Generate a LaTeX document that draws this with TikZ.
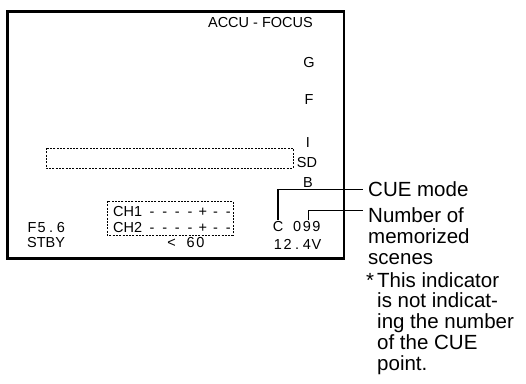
\documentclass[tikz,border=0pt]{standalone}
\usepackage{fontspec}
\setmainfont{Liberation Sans}
\usetikzlibrary{positioning}
% fixed-pitch digits of the viewfinder display
\newcommand{\lcd}[1]{\lcdnext#1\relax}
\def\lcdnext#1{\ifx#1\relax\else\makebox[9.6pt]{#1}\expandafter\lcdnext\fi}

\begin{document}
\begin{tikzpicture}[x=1pt,y=-1pt,
  disp/.style={inner sep=0pt,font=\fontsize{14.5}{16}\selectfont},
  lbl/.style={inner sep=0pt,align=left,font=\fontsize{20.5}{20.7}\selectfont},
  lead/.style={line width=1.1pt},
  dotbox/.style={line width=0.9pt,dash pattern=on 2pt off 1.3pt}]
  \useasboundingbox (0,0) rectangle (526,383);
  \draw[line width=2.8pt] (7.7,11.3) rectangle (344,258.5);
  % right hand column of the screen
  \node[disp,anchor=east] (accu) at (313,23) {ACCU - FOCUS};
  \node[disp] (g)  at (309,63)  {G};
  \node[disp] (f)  at (309,100) {F};
  \node[disp] (i)  at (308,143) {I};
  \node[disp] (sd) at (307,163) {SD};
  \node[disp] (b)  at (308,183) {B};
  \draw[dotbox] (46,148) rectangle (293,168);
  % channel box
  \draw[dotbox] (107,201) rectangle (233,235);
  \node[disp,anchor=base west] (ch1) at (113,216) {CH1};
  \node[disp,anchor=base west] (ch2) at (113,232) {CH2};
  \foreach \y in {216,232}
    \foreach \k/\s in {1/-,2/-,3/-,4/-,5/+,6/-,7/-}
      \node[disp,anchor=base] (tick-\y-\k) at (139.3+12.7*\k,\y) {\s};
  % bottom line
  \node[disp,anchor=west] (fstop)  at (27,228)    {\lcd{F5.6}};
  \node[disp,anchor=west] (stby)   at (27,243)    {STBY};
  \node[disp,anchor=west] (dist)   at (166.5,243) {\lcd{<~60}};
  \node[disp,anchor=west] (cue)    at (273,227)   {\lcd{C}};
  \node[disp,anchor=west] (scenes) at (292.2,227) {\lcd{099}};
  \node[disp,anchor=west] (volt)   at (273,244)   {\lcd{12.4V}};
  % callouts (base = last line)
  \node[lbl,anchor=base west] (cuemode) at (368,196.5) {CUE mode};
  \node[lbl,anchor=base west] (number)  at (368,264) {Number of\\memorized\\scenes};
  \node[lbl,anchor=base west] (note)    at (377,370)
    {\llap{*\kern3pt}This indicator\\is not indicat-\\ing the number\\of the CUE\\point.};
  \draw[lead,shorten <=1.5pt,shorten >=5pt] (cue.north) |- (cuemode.west);
  \draw[lead,shorten <=1.5pt,shorten >=5pt]
    ([xshift=1.7pt]scenes.north) |- ([yshift=-3pt]number.north west);
\end{tikzpicture}
\end{document}
